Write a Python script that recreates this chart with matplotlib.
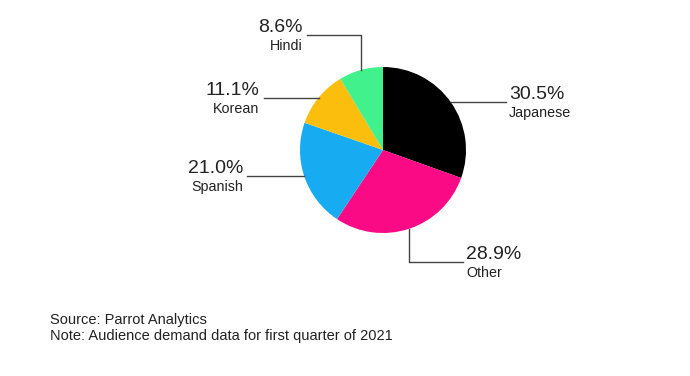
import matplotlib.pyplot as plt
import numpy as np

plt.rcParams['font.family'] = ['Liberation Sans', 'DejaVu Sans']

# Data
languages = ['Japanese', 'Other', 'Spanish', 'Korean', 'Hindi']
shares = [30.5, 28.9, 21.0, 11.1, 8.6]
colors = ['#000000', '#fb0a85', '#17abf1', '#fcbe0c', '#41f18c']

# leader style per slice: direction of the first segment, its length, elbow length
leaders = {
    'Japanese': ('right', 55, 0),
    'Other': ('down', 33, 54),
    'Spanish': ('left', 57, 0),
    'Korean': ('left', 55, 0),
    'Hindi': ('up', 35, -54),
}

W, H = 690, 376
fig = plt.figure(figsize=(W / 100, H / 100), dpi=100)
ax = fig.add_axes([0, 0, 1, 1])

cx, cy, r = 383, H - 150, 83
wedges, _ = ax.pie(shares, colors=colors, startangle=90, counterclock=False,
                   center=(cx, cy), radius=r, frame=True,
                   wedgeprops=dict(linewidth=0))
ax.set_xlim(0, W)
ax.set_ylim(0, H)
ax.axis('off')

line_kw = dict(color='#444444', lw=1)
for w, name, val in zip(wedges, languages, shares):
    mid = np.deg2rad((w.theta1 + w.theta2) / 2)
    x0, y0 = cx + r * np.cos(mid), cy + r * np.sin(mid)
    d, l1, l2 = leaders[name]
    if d in ('right', 'left'):
        x1 = x0 + (l1 if d == 'right' else -l1)
        ax.plot([x0, x1], [y0, y0], **line_kw)
        xe, ye, ha = x1, y0, ('left' if d == 'right' else 'right')
    else:
        y1 = y0 + (l1 if d == 'up' else -l1)
        x1 = x0 + l2
        ax.plot([x0, x0, x1], [y0, y1, y1], **line_kw)
        xe, ye, ha = x1, y1, ('left' if l2 > 0 else 'right')
    xt = xe + (3 if ha == 'left' else -4)
    ax.text(xt, ye + 3, f'{val:.1f}%', ha=ha, va='baseline',
            fontsize=14, color='#222222')
    ax.text(xt, ye - 4, name, ha=ha, va='top', fontsize=10.3, color='#222222')

fig.text(50 / W, 1 - 320 / H, 'Source: Parrot Analytics', ha='left',
         va='center', fontsize=10.5, color='#222222')
fig.text(50 / W, 1 - 336 / H, 'Note: Audience demand data for first quarter of 2021',
         ha='left', va='center', fontsize=10.5, color='#222222')

fig.savefig('out.png', dpi=100)
